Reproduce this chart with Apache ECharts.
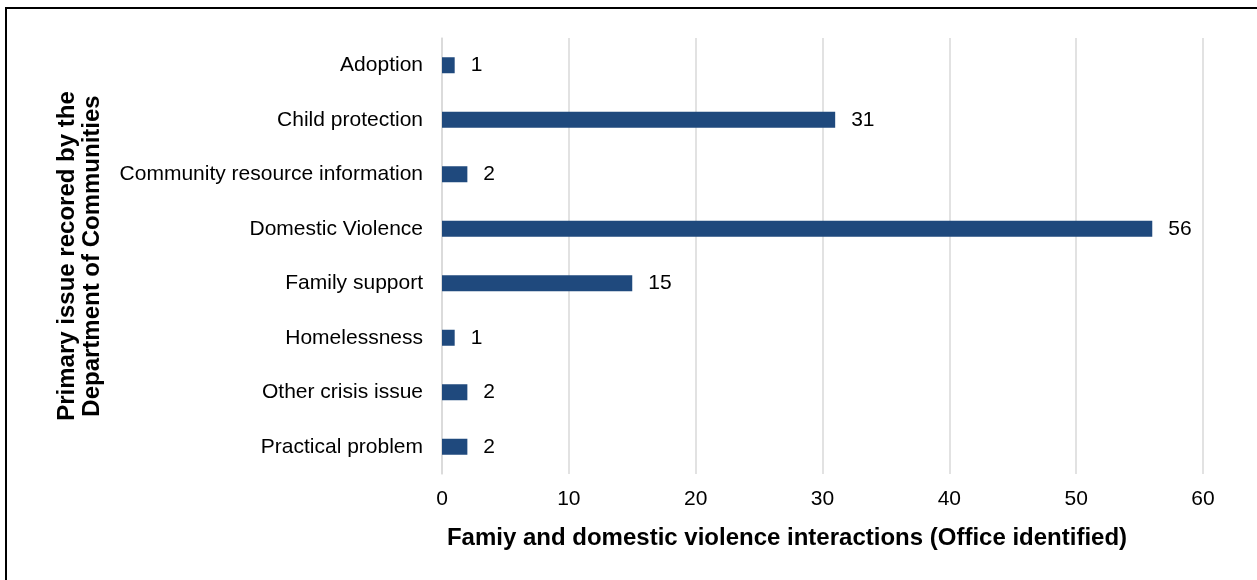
<!DOCTYPE html>
<html>
<head>
<meta charset="utf-8">
<script src="https://cdn.jsdelivr.net/npm/echarts@6/dist/echarts.min.js"></script>
<style>
  html, body { margin: 0; padding: 0; background: #fff; }
  #frame {
    position: absolute; left: 5px; top: 7px; width: 1260px; height: 580px;
    border-left: 2px solid #000; border-top: 2px solid #000; box-sizing: border-box;
  }
  #chart { position: absolute; left: 0; top: 0; width: 1257px; height: 580px; }
</style>
</head>
<body>
<div id="frame"></div>
<div id="chart"></div>
<script>
const categories = [
  'Adoption',
  'Child protection',
  'Community resource information',
  'Domestic Violence',
  'Family support',
  'Homelessness',
  'Other crisis issue',
  'Practical problem'
];
const interactions = [1, 31, 2, 56, 15, 1, 2, 2];
const xTitle = 'Famiy and domestic violence interactions (Office identified)';
const yTitle = 'Primary issue recored by the\nDepartment of Communities';

const chart = echarts.init(document.getElementById('chart'), null, { renderer: 'canvas' });
const font = '"Liberation Sans", Arial, sans-serif';

chart.setOption({
  animation: false,
  grid: { left: 442, right: 54, top: 38, bottom: 106, containLabel: false },
  xAxis: {
    type: 'value',
    min: 0,
    max: 60,
    interval: 10,
    axisLine: { show: false },
    axisTick: { show: false },
    axisLabel: { color: '#000', fontSize: 21, fontFamily: font, margin: 15 },
    splitLine: { lineStyle: { color: '#d9d9d9', width: 1.5 } }
  },
  yAxis: {
    type: 'category',
    inverse: true,
    data: categories,
    axisLine: { show: true, lineStyle: { color: '#d9d9d9', width: 1.5 } },
    axisTick: { show: false },
    axisLabel: { color: '#000', fontSize: 21, fontFamily: font, margin: 19 }
  },
  graphic: [
    {
      type: 'text',
      x: 80,
      y: 256,
      rotation: Math.PI / 2,
      style: {
        text: yTitle,
        fill: '#000',
        font: 'bold 24px ' + font,
        align: 'center',
        verticalAlign: 'middle',
        lineHeight: 25
      }
    },
    {
      type: 'text',
      x: 787,
      y: 538,
      style: {
        text: xTitle,
        fill: '#000',
        font: 'bold 24px ' + font,
        align: 'center',
        verticalAlign: 'middle'
      }
    }
  ],
  series: [
    {
      type: 'bar',
      data: interactions,
      barWidth: 16,
      itemStyle: { color: '#1f497d' },
      label: {
        show: true,
        position: 'right',
        distance: 16,
        color: '#000',
        fontSize: 21,
        fontFamily: font
      }
    }
  ]
});
</script>
</body>
</html>
